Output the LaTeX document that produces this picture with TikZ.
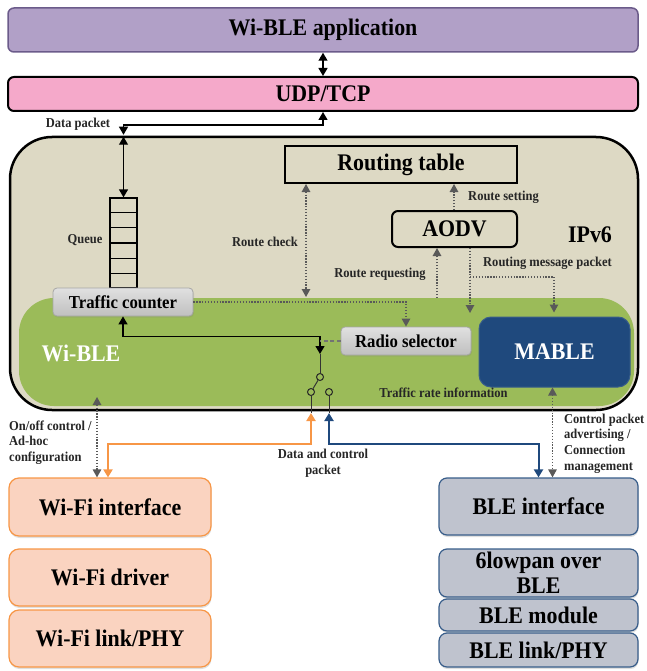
\documentclass[tikz,border=0pt]{standalone}
\usepackage{fontspec}
\setmainfont[FakeStretch=0.92]{Liberation Serif}
\usetikzlibrary{arrows.meta,calc,shadows}

\definecolor{appfill}{HTML}{B1A0C7}
\definecolor{appline}{HTML}{6B5B8A}
\definecolor{udpfill}{HTML}{F5A9CA}
\definecolor{ipfill}{HTML}{DDD9C4}
\definecolor{wigreen}{HTML}{9BBB59}
\definecolor{mablefill}{HTML}{1F497D}
\definecolor{wififill}{HTML}{FAD3C0}
\definecolor{wifiline}{HTML}{F79646}
\definecolor{blefill}{HTML}{BFC3CE}
\definecolor{bleline}{HTML}{385D8A}
\definecolor{ctlgrey}{HTML}{595959}

\tikzset{
  bigfont/.style={font=\fontsize{23.8}{24.5}\selectfont\bfseries},
  midfont/.style={font=\fontsize{18.2}{19}\selectfont\bfseries},
  lbl/.style={font=\fontsize{13.6}{15.6}\selectfont\bfseries, text=black!85, inner sep=0pt, align=left},
  layer/.style={bigfont, draw, inner sep=0pt, rounded corners=6pt},
  greybox/.style={midfont, draw=black!35, line width=0.8pt, top color=black!12, bottom color=black!25,
    rounded corners=4pt, inner sep=0pt, drop shadow={opacity=0.2, shadow xshift=1pt, shadow yshift=-1.5pt}},
  wifibox/.style={bigfont, draw=wifiline, fill=wififill, line width=1.2pt, rounded corners=10pt,
    minimum width=202pt, inner sep=0pt, align=center,
    drop shadow={opacity=0.25, shadow xshift=0.5pt, shadow yshift=-2pt}},
  blebox/.style={bigfont, draw=bleline, fill=blefill, line width=1.2pt, rounded corners=8pt,
    minimum width=199pt, inner sep=0pt, align=center,
    drop shadow={opacity=0.25, shadow xshift=0.5pt, shadow yshift=-2pt}},
  blk/.style={line width=1.3pt, black, >={Triangle[length=8pt,width=9pt]}},
  gdot/.style={line width=1.3pt, ctlgrey, dash pattern=on 1.3pt off 1.6pt,
    >={Triangle[length=8pt,width=8.5pt]}},
  gdash/.style={line width=1.2pt, black!55, dash pattern=on 4pt off 2.5pt},
  orarrow/.style={line width=2pt, wifiline, >={Triangle[length=8pt,width=9pt]}},
  blarrow/.style={line width=2pt, mablefill, >={Triangle[length=8pt,width=9pt]}},
  swline/.style={line width=1pt, black!80},
  swcirc/.style={circle, draw=black!85, line width=1pt, minimum size=7pt, inner sep=0pt},
}

\begin{document}
\begin{tikzpicture}[x=1pt, y=-1pt]
\useasboundingbox (0,0) rectangle (646,671);

% upper layers
\node[layer, draw=appline, fill=appfill, line width=1.5pt, minimum width=630pt, minimum height=44pt]
  (app) at (323,30) {Wi-BLE application};
\node[layer, draw=black, fill=udpfill, line width=2pt, minimum width=630pt, minimum height=34pt]
  (udp) at (323,94) {UDP/TCP};

% IPv6 block and the Wi-BLE area inside it
\node[draw=black, fill=ipfill, line width=2.5pt, rounded corners=42pt,
  minimum width=628pt, minimum height=273pt, inner sep=0pt] (ipv6) at (324,273.5) {};
\node[fill=wigreen, rounded corners=35pt, minimum width=615pt, minimum height=108pt, inner sep=0pt]
  (wible) at (326.5,352) {};
\node[bigfont, text=white, inner sep=0pt] (wiblelbl) at (81,353) {Wi-BLE};
\node[bigfont, inner sep=0pt] (ipv6lbl) at (590,235) {IPv6};

% queue
\node[draw=black, line width=1.3pt, fill=ipfill, minimum width=27pt, minimum height=90pt, inner sep=0pt]
  (queue) at (123.5,243) {};
\foreach \i in {1,...,5}
  \draw[black, line width=1.1pt] ($(queue.north west)!\i/6!(queue.south west)$)
    -- ($(queue.north east)!\i/6!(queue.south east)$);
\node[lbl] (queuelbl) at (85,240) {Queue};

% routing components
\node[bigfont, draw=black, line width=2pt, minimum width=232pt, minimum height=37pt, inner sep=0pt]
  (rt) at (401,164.5) {Routing table};
\node[bigfont, draw=black, line width=2pt, rounded corners=6pt, minimum width=125pt, minimum height=36pt,
  inner sep=0pt] (aodv) at (454.5,229) {AODV};

\node[greybox, minimum width=140pt, minimum height=28pt] (tc) at (123,302) {Traffic counter};
\node[greybox, minimum width=130pt, minimum height=28pt] (rs) at (406,341) {Radio selector};
\node[bigfont, text=white, fill=mablefill, draw=bleline, line width=1pt, rounded corners=12pt,
  minimum width=151pt, minimum height=70pt, inner sep=0pt] (mable) at (554.5,352) {MABLE};

% interface stacks
\node[wifibox, minimum height=58pt] (wifiif) at (110,507) {Wi-Fi interface};
\node[wifibox, minimum height=57pt] (wifidrv) at (110,577.5) {Wi-Fi driver};
\node[wifibox, minimum height=57pt] (wifiphy) at (110,638.5) {Wi-Fi link/PHY};
\node[blebox, minimum height=48pt] (lowpan) at (538.5,573) {6lowpan over\\BLE};
\node[blebox, minimum height=57pt] (bleif) at (538.5,506.5) {BLE interface};
\node[blebox, minimum height=32pt] (blemod) at (538.5,615) {BLE module};
\node[blebox, minimum height=34pt] (blephy) at (538.5,650) {BLE link/PHY};

% data path between layers
\draw[blk,<->] (app.south) -- (udp.north);
\draw[blk,<->] (udp.south) -- ++(0,13) -| ([yshift=1pt]queue.north |- ipv6.north);
\draw[blk,<->] ([yshift=-1pt]queue.north |- ipv6.north) -- (queue.north);
\node[lbl] (dplbl) at (78,124.5) {Data packet};

% control connectors
\coordinate (rcEnd) at (306,297);
\draw[gdot,<->] (rt.south -| rcEnd) -- (rcEnd);
\node[lbl] (rclbl) at (265,242) {Route check};

\draw[gdot,->] (tc.east) -| (rs.north);

\coordinate (rsx) at (454,0);
\draw[gdot,->] (aodv.north -| rsx) -- (rt.south -| rsx);
\node[lbl] (rslbl) at (503.5,197) {Route setting};

\coordinate (rqStart) at (437,298);
\draw[gdot,->] (rqStart) -- (rqStart |- aodv.south);
\node[lbl] (rqlbl) at (380,274) {Route requesting};

\coordinate (rmEnd) at (470,313);
\coordinate (rmSplit) at (470,277);
\draw[gdot,->] (rmEnd |- aodv.south) -- (rmEnd);
\draw[gdot,->] (rmSplit) -| ([xshift=-0.5pt,yshift=4pt]mable.north);
\node[lbl] (rmlbl) at (547.5,263) {Routing message packet};

% switch between the two radios
\coordinate (swArrow) at (320,354);
\coordinate (orTip) at (311,413);
\coordinate (blTip) at (329,413);
\draw[blk,<->] (tc.south) -- ++(0,20) -| (swArrow);
\draw[gdash] (rs.west) -- (rs.west -| swArrow);
\node[swcirc] (c1) at (320,377) {};
\node[swcirc] (c2) at (311,392) {};
\node[swcirc] (c3) at (329,392) {};
\draw[swline] (swArrow) -- (c1.north);
\draw[swline] (c2) -- (c1);
\draw[swline] (c2.south) -- (orTip);
\draw[swline] (c3.south) -- (blTip);
\node[lbl] (rilbl) at (443.5,393) {Traffic rate information};

\draw[orarrow,<->] (orTip) -- ++(0,31) -| ([xshift=-2pt]wifiif.north);
\draw[blarrow,<->] (blTip) -- ++(0,31) -| (bleif.north);
\node[lbl, align=center] (dclbl) at (323,463) {Data and control\\packet};

\coordinate (onoffTop) at (97,397);
\draw[gdot,<->] (onoffTop) -- (onoffTop |- wifiif.north);
\node[lbl, anchor=west] (oolbl) at (9,442.5) {On/off control /\\Ad-hoc\\configuration};

\draw[gdot,<->] ([xshift=-2pt]mable.south) -- ([xshift=-2pt]mable.south |- bleif.north);
\node[lbl, anchor=west] (cplbl) at (564,443.5) {Control packet\\advertising /\\Connection\\management};
\end{tikzpicture}
\end{document}
